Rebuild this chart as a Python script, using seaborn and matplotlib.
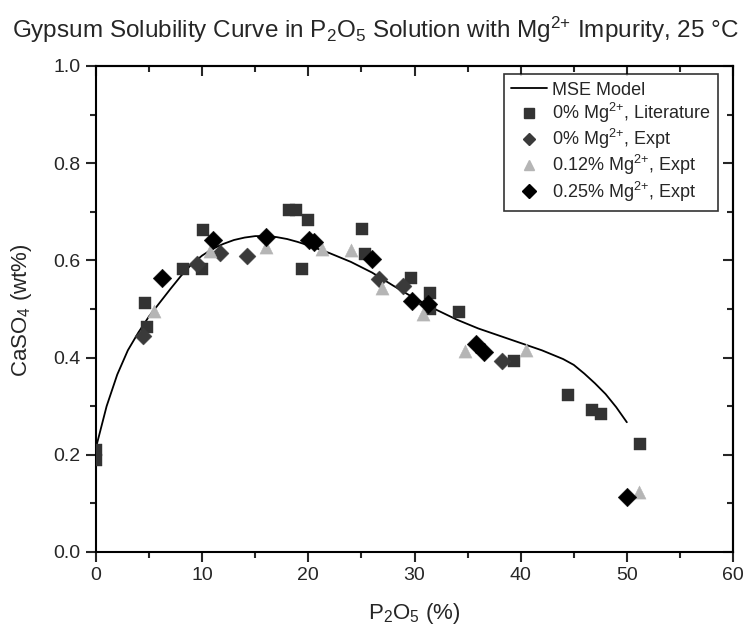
import matplotlib
matplotlib.use("Agg")
import matplotlib.pyplot as plt
from matplotlib.lines import Line2D
from matplotlib.ticker import MultipleLocator
import seaborn as sns
import pandas as pd

# ---------------- data ----------------
model_x = [0, 1, 2, 3, 4, 5, 6, 7, 8, 9, 10, 11, 12, 13, 14, 15, 16, 17, 18, 19, 20,
           22, 24, 26, 28, 30, 32, 34, 36, 38, 40, 42, 44, 45, 46, 47, 48, 49, 50]
model_y = [0.215, 0.30, 0.365, 0.415, 0.452, 0.485, 0.513, 0.541, 0.568, 0.592, 0.610,
           0.624, 0.634, 0.642, 0.647, 0.650, 0.650, 0.648, 0.644, 0.638, 0.631,
           0.615, 0.597, 0.575, 0.548, 0.522, 0.499, 0.478, 0.460, 0.445, 0.430,
           0.415, 0.397, 0.385, 0.367, 0.347, 0.325, 0.298, 0.267]

lit_x = [0, 0, 4.6, 4.8, 8.2, 10.0, 10.1, 18.2, 18.8, 20.0, 19.4, 25.1, 25.3, 29.7,
         31.5, 31.5, 34.2, 39.4, 44.5, 46.7, 47.6, 51.2]
lit_y = [0.21, 0.19, 0.513, 0.462, 0.582, 0.583, 0.663, 0.704, 0.704, 0.683, 0.583,
         0.664, 0.614, 0.564, 0.533, 0.499, 0.493, 0.394, 0.324, 0.293, 0.284, 0.223]

mg0_x = [4.45, 9.5, 11.7, 14.25, 26.7, 28.9, 38.2]
mg0_y = [0.444, 0.592, 0.616, 0.610, 0.561, 0.547, 0.392]

mg012_x = [5.5, 10.7, 16.0, 21.25, 24.0, 26.9, 30.8, 34.8, 40.5, 51.1]
mg012_y = [0.495, 0.620, 0.627, 0.624, 0.621, 0.544, 0.489, 0.413, 0.415, 0.124]

mg025_x = [6.25, 11.05, 16.0, 20.1, 20.5, 26.0, 29.8, 31.3, 35.8, 36.5, 50.0]
mg025_y = [0.564, 0.643, 0.648, 0.641, 0.637, 0.603, 0.516, 0.511, 0.427, 0.411, 0.113]

labels = ["MSE Model", "0% Mg$^{2{+}}$, Literature", "0% Mg$^{2{+}}$, Expt",
          "0.12% Mg$^{2{+}}$, Expt", "0.25% Mg$^{2{+}}$, Expt"]

# ---------------- style ----------------
sns.set_style("ticks")
plt.rcParams["font.family"] = ["Liberation Sans", "DejaVu Sans"]
plt.rcParams["mathtext.default"] = "regular"

fig = plt.figure(figsize=(7.51, 6.36), dpi=100)
ax = fig.add_axes([96 / 751, 1 - 552 / 636, 637 / 751, 486 / 636])

c_lit = "#333333"
c_mg0 = "#3a3a3a"
c_mg012 = "#b5b5b5"
c_mg025 = "#000000"

sns.lineplot(x=model_x, y=model_y, ax=ax, color="black", lw=1.3, zorder=2,
             estimator=None, sort=False)
sns.scatterplot(x=lit_x, y=lit_y, ax=ax, marker="s", s=85, color=c_lit,
                edgecolor=c_lit, linewidth=0.3, zorder=3)
sns.scatterplot(x=mg0_x, y=mg0_y, ax=ax, marker="D", s=75, color=c_mg0,
                edgecolor=c_mg0, linewidth=0.3, zorder=3)
sns.scatterplot(x=mg012_x, y=mg012_y, ax=ax, marker="^", s=90, color=c_mg012,
                edgecolor=c_mg012, linewidth=0.3, zorder=3)
sns.scatterplot(x=mg025_x, y=mg025_y, ax=ax, marker="D", s=90, color=c_mg025,
                edgecolor=c_mg025, linewidth=0.3, zorder=4)

ax.set_xlim(0, 60)
ax.set_ylim(0, 1.0)
ax.xaxis.set_major_locator(MultipleLocator(10))
ax.xaxis.set_minor_locator(MultipleLocator(5))
ax.yaxis.set_major_locator(MultipleLocator(0.2))
ax.yaxis.set_minor_locator(MultipleLocator(0.1))
ax.yaxis.set_major_formatter(matplotlib.ticker.FormatStrFormatter("%.1f"))

for s in ax.spines.values():
    s.set_visible(True)
    s.set_linewidth(1.5)
    s.set_color("black")

ax.tick_params(which="major", direction="out", length=7, width=1.5,
               labelsize=14, bottom=True, left=True, top=False, right=False, pad=4)
ax.tick_params(which="minor", direction="out", length=4, width=1.5,
               bottom=True, left=True, top=False, right=False)
ax2 = ax.secondary_xaxis("top")
ax2.xaxis.set_major_locator(MultipleLocator(10))
ax2.xaxis.set_minor_locator(MultipleLocator(5))
ax2.tick_params(which="major", direction="in", length=7, width=1.5, labeltop=False)
ax2.tick_params(which="minor", direction="in", length=4, width=1.5)
ax2.spines["top"].set_linewidth(1.5)
ax3 = ax.secondary_yaxis("right")
ax3.yaxis.set_major_locator(MultipleLocator(0.2))
ax3.yaxis.set_minor_locator(MultipleLocator(0.1))
ax3.tick_params(which="major", direction="in", length=7, width=1.5, labelright=False)
ax3.tick_params(which="minor", direction="in", length=4, width=1.5)
ax3.spines["right"].set_linewidth(1.5)

ax.set_xlabel("P$_2$O$_5$ (%)", fontsize=16)
ax.xaxis.set_label_coords(0.5, -0.1)
ax.set_ylabel("")
fig.text(22 / 751, 1 - 310 / 636, "CaSO$_4$ (wt%)", rotation=90,
         ha="center", va="center", fontsize=16)

fig.text(0.5, 1 - 30 / 636,
         "Gypsum Solubility Curve in P$_2$O$_5$ Solution with Mg$^{2{+}}$ Impurity, 25 \u00b0C",
         ha="center", va="center", fontsize=17.5)

handles = [
    Line2D([], [], color="black", lw=1.3),
    Line2D([], [], ls="", marker="s", ms=7, color=c_lit),
    Line2D([], [], ls="", marker="D", ms=6.5, color=c_mg0),
    Line2D([], [], ls="", marker="^", ms=7.5, color=c_mg012),
    Line2D([], [], ls="", marker="D", ms=7.5, color=c_mg025),
]
leg = ax.legend(handles, labels, loc="upper right", bbox_to_anchor=(0.982, 0.99),
                fontsize=13, frameon=True, fancybox=False, edgecolor="black",
                handlelength=2.0, handletextpad=0.3, labelspacing=0.12,
                borderpad=0.4, borderaxespad=0.2)
leg.get_frame().set_linewidth(1.2)

fig.savefig("out.png", dpi=100)
